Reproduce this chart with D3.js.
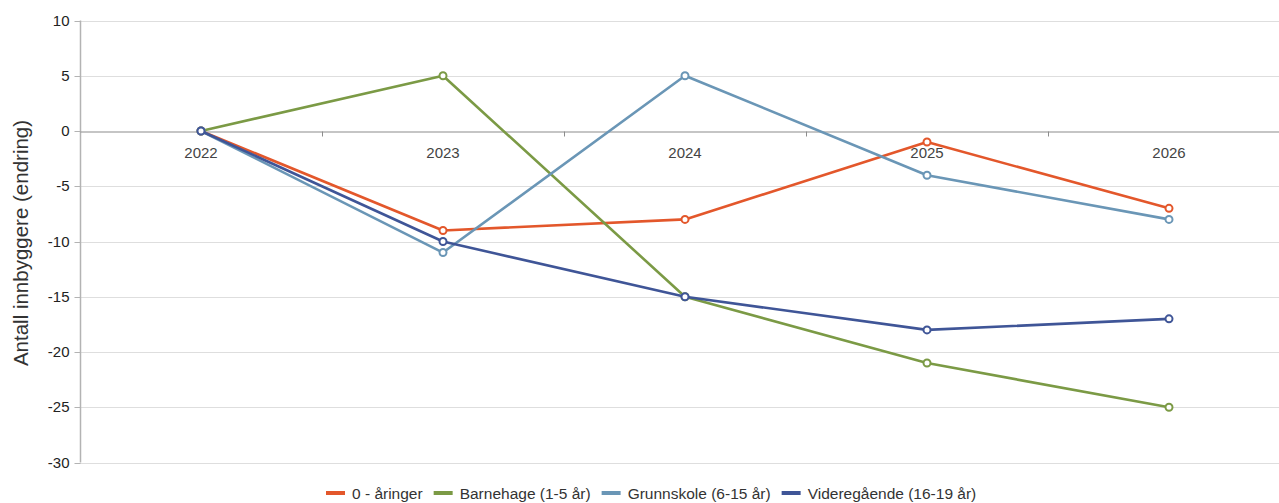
<!DOCTYPE html>
<html>
<head>
<meta charset="utf-8">
<script src="https://cdn.jsdelivr.net/npm/d3@7"></script>
<style>
  body { margin: 0; background: #fff; }
  svg { display: block; font-family: "Liberation Sans", Arial, sans-serif; }
</style>
</head>
<body>
<svg id="chart" width="1279" height="503"></svg>
<script>
// Data
const years = ["2022", "2023", "2024", "2025", "2026"];
const seriesNames = ["0 - åringer", "Barnehage (1-5 år)", "Grunnskole (6-15 år)", "Videregående (16-19 år)"];
const nullAaringer = [0, -9, -8, -1, -7];
const barnehage = [0, 5, -15, -21, -25];
const grunnskole = [0, -11, 5, -4, -8];
const videregaende = [0, -10, -15, -18, -17];
const yTicks = [10, 5, 0, -5, -10, -15, -20, -25, -30];
const colors = ["#e3572b", "#7b9a45", "#6a96b6", "#3f5597"];

const series = [nullAaringer, barnehage, grunnskole, videregaende].map((values, i) => ({
  name: seriesNames[i],
  color: colors[i],
  values: values.map((v, j) => ({ year: years[j], value: v })),
}));

const svg = d3.select("#chart");
const plotLeft = 80, plotTop = 20.5, plotW = 1210, plotH = 442;

const x = d3.scaleBand().domain(years).range([plotLeft, plotLeft + plotW]);
const y = d3.scaleLinear().domain([-30, 10]).range([plotTop + plotH, plotTop]);

// Gridlines
svg.append("g")
  .selectAll("line")
  .data(yTicks.filter((d) => d !== 0))
  .join("line")
  .attr("x1", plotLeft)
  .attr("x2", plotLeft + plotW)
  .attr("y1", (d) => Math.round(y(d)) + 0.5)
  .attr("y2", (d) => Math.round(y(d)) + 0.5)
  .attr("stroke", "#dedede")
  .attr("stroke-width", 1);

// Y axis
const yAxis = svg.append("g")
  .attr("transform", `translate(${plotLeft + 0.5},0)`)
  .call(d3.axisLeft(y).tickValues(yTicks).tickSize(6).tickPadding(5).tickFormat((d) => String(d)));
yAxis.select(".domain").attr("stroke", "#b3b3b3").attr("stroke-width", 1.5).attr("d", `M0,${plotTop}V${plotTop + plotH}`);
yAxis.selectAll(".tick line").attr("stroke", "#b3b3b3");
yAxis.selectAll(".tick text")
  .attr("fill", "#222")
  .style("font-size", "15px");
yAxis.selectAll(".tick").attr("transform", (d) => `translate(0,${Math.round(y(d)) + 0.5})`);

// Zero line with category labels
const zeroY = Math.round(y(0)) + 0.5;
const xAxis = svg.append("g")
  .attr("transform", `translate(0,${zeroY})`)
  .call(d3.axisBottom(x).tickSize(0).tickPadding(16));
xAxis.select(".domain").attr("stroke", "#8c8c8c").attr("stroke-width", 1.2);
xAxis.selectAll(".tick text")
  .attr("fill", "#444")
  .style("font-size", "15px");

// Ticks between categories
svg.append("g")
  .selectAll("line")
  .data(years.slice(1))
  .join("line")
  .attr("x1", (d) => Math.round(x(d)) + 0.5)
  .attr("x2", (d) => Math.round(x(d)) + 0.5)
  .attr("y1", zeroY)
  .attr("y2", zeroY + 5)
  .attr("stroke", "#8c8c8c");

// Y axis title
svg.append("text")
  .attr("transform", `translate(28,243) rotate(-90)`)
  .attr("text-anchor", "middle")
  .attr("fill", "#333")
  .style("font-size", "20.5px")
  .text("Antall innbyggere (endring)");

// Lines
const line = d3.line()
  .x((d) => x(d.year) + x.bandwidth() / 2)
  .y((d) => y(d.value));

const groups = svg.append("g")
  .selectAll("g")
  .data(series)
  .join("g");

groups.append("path")
  .attr("d", (d) => line(d.values))
  .attr("fill", "none")
  .attr("stroke", (d) => d.color)
  .attr("stroke-width", 2.6)
  .attr("stroke-linejoin", "round");

groups.selectAll("circle")
  .data((d) => d.values.map((v) => ({ ...v, color: d.color })))
  .join("circle")
  .attr("cx", (d) => x(d.year) + x.bandwidth() / 2)
  .attr("cy", (d) => y(d.value))
  .attr("r", 3.5)
  .attr("fill", "#fff")
  .attr("stroke", (d) => d.color)
  .attr("stroke-width", 2);

// Legend
const legend = svg.append("g").attr("transform", "translate(0,493)");
let lx = 326;
series.forEach((s) => {
  const item = legend.append("g").attr("transform", `translate(${lx},0)`);
  item.append("line")
    .attr("x1", 0).attr("x2", 19)
    .attr("y1", 0).attr("y2", 0)
    .attr("stroke", s.color)
    .attr("stroke-width", 4);
  const t = item.append("text")
    .attr("x", 26)
    .attr("y", 5.5)
    .attr("fill", "#333")
    .style("font-size", "15.5px")
    .text(s.name);
  lx += 26 + t.node().getComputedTextLength() + 11;
});
</script>
</body>
</html>
